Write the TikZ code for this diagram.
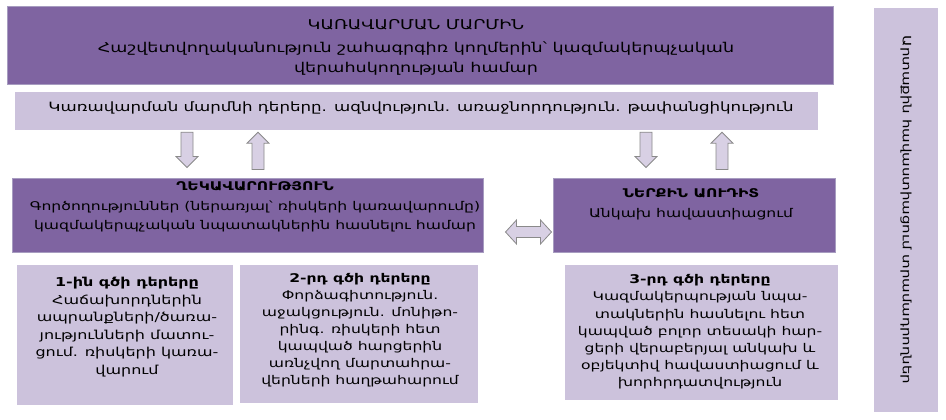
\documentclass[tikz,border=0pt]{standalone}
\usepackage{fontspec}
\setmainfont[FakeStretch=1.3]{DejaVu Sans}
\usetikzlibrary{calc,backgrounds}
\definecolor{dpurple}{HTML}{7F64A1}
\definecolor{lpurple}{HTML}{CCC2DC}
\definecolor{dborder}{HTML}{A79CC0}
\definecolor{arrowfill}{HTML}{D8D0E4}
\definecolor{arrowline}{HTML}{8A8A8A}
\tikzset{
  darkbox/.style={draw=dborder, line width=1pt, fill=dpurple, inner sep=0pt},
  lightbox/.style={fill=lpurple, draw=none, inner sep=0pt},
  txt/.style={align=center, inner sep=0pt, text=black},
  paneldraw/.style={fill=white, draw=black!10, line width=0.6pt},
  shadowline/.style={draw=black!35, line width=1.2pt},
  blockarrow/.style={fill=arrowfill, draw=arrowline, line width=0.8pt, line join=miter},
}
\newcommand\panelfor[1]{%
  \path[paneldraw] ($(#1.north west)+(-4pt,4pt)$) rectangle ($(#1.south east)+(5pt,-5pt)$);
  \draw[shadowline] ($(#1.south west)+(-2pt,-5pt)$) -- ($(#1.south east)+(5pt,-5pt)$) -- ($(#1.north east)+(5pt,2pt)$);}
\newcommand\vblock[2]{%
  \path[blockarrow] let \p1=#1, \p2=#2, \n1={ifthenelse(\y2>\y1,1,-1)} in
    ({\x1-6pt},\y1) -- ({\x1-6pt},{\y2-\n1*11pt}) -- ({\x1-11pt},{\y2-\n1*11pt}) -- (\x1,\y2)
    -- ({\x1+11pt},{\y2-\n1*11pt}) -- ({\x1+6pt},{\y2-\n1*11pt}) -- ({\x1+6pt},\y1) -- cycle;}
\begin{document}
\begin{tikzpicture}[x=1pt,y=-1pt]
\useasboundingbox (0,0) rectangle (946,420);
\fill[white] (0,0) rectangle (946,420);
% boxes
\node[darkbox, minimum width=826pt, minimum height=78pt] (gov) at (420,46) {};
\node[lightbox, minimum width=803pt, minimum height=38pt] (band) at (416.5,111) {};
\node[darkbox, minimum width=471pt, minimum height=74pt] (mgmt) at (247.5,215) {};
\node[darkbox, minimum width=282pt, minimum height=74pt] (ia) at (694,215) {};
\node[lightbox, minimum width=216pt, minimum height=140pt] (l1) at (125,335) {};
\node[lightbox, minimum width=238pt, minimum height=138pt] (l2) at (359,334) {};
\node[lightbox, minimum width=273pt, minimum height=135pt] (l3) at (701.5,332.5) {};
\node[lightbox, minimum width=64pt, minimum height=404pt] (ext) at (906,210) {};
\begin{scope}[on background layer]
  \panelfor{gov}\panelfor{band}\panelfor{mgmt}\panelfor{ia}
  \panelfor{l1}\panelfor{l2}\panelfor{l3}\panelfor{ext}
\end{scope}
% texts
\node[txt, font=\fontsize{13.5}{20}\selectfont] (govT) at (416,47.5)
  {ԿԱՌԱՎԱՐՄԱՆ ՄԱՐՄԻՆ\\[3pt]Հաշվետվողականություն շահագրգիռ կողմերին՝ կազմակերպչական\\վերահսկողության համար};
\node[txt, font=\fontsize{12.8}{15}\selectfont] (bandT) at (421,108)
  {Կառավարման մարմնի դերերը. ազնվություն. առաջնորդություն. թափանցիկություն};
\node[txt, font=\fontsize{12}{19.5}\selectfont] (mgmtT) at (255,207)
  {\textbf{ՂԵԿԱՎԱՐՈՒԹՅՈՒՆ}\\Գործողություններ (ներառյալ՝ ռիսկերի կառավարումը)\\կազմակերպչական նպատակներին հասնելու համար};
\node[txt, font=\fontsize{12}{20}\selectfont] (iaT) at (691,204)
  {\textbf{ՆԵՐՔԻՆ ԱՈՒԴԻՏ}\\Անկախ հավաստիացում};
\node[txt, font=\fontsize{12.3}{17.5}\selectfont] (l1T) at (127,327)
  {\textbf{1-ին գծի դերերը}\\Հաճախորդներին\\ապրանքների/ծառա-\\յությունների մատու-\\ցում. ռիսկերի կառա-\\վարում};
\node[txt, font=\fontsize{12}{17}\selectfont] (l2T) at (360,330)
  {\textbf{2-րդ գծի դերերը}\\Փորձագիտություն.\\աջակցություն. մոնիթո-\\րինգ. ռիսկերի հետ\\կապված հարցերին\\առնչվող մարտահրա-\\վերների հաղթահարում};
\node[txt, font=\fontsize{12}{17.2}\selectfont] (l3T) at (700,332)
  {\textbf{3-րդ գծի դերերը}\\Կազմակերպության նպա-\\տակներին հասնելու հետ\\կապված բոլոր տեսակի հար-\\ցերի վերաբերյալ անկախ և\\օբյեկտիվ հավաստիացում և\\խորհրդատվություն};
\node[txt, rotate=-90, font=\fontsize{11.5}{14}\selectfont] (extT) at (906,210)
  {Արտաքին հավաստիացում տրամադրողներ};
% arrows
\coordinate (a1) at (187,0);
\coordinate (a2) at (258,0);
\coordinate (a3) at (646,0);
\coordinate (a4) at (722,0);
\vblock{($(a1 |- band.south)+(0,2)$)}{($(a1 |- mgmt.north)+(0,-10)$)}
\vblock{($(a2 |- mgmt.north)+(0,-8)$)}{($(a2 |- band.south)+(0,2)$)}
\vblock{($(a3 |- band.south)+(0,2)$)}{($(a3 |- ia.north)+(0,-10)$)}
\vblock{($(a4 |- ia.north)+(0,-8)$)}{($(a4 |- band.south)+(0,2)$)}
\coordinate (dl) at ($(mgmt.east)+(22,17)$);
\coordinate (dr) at ($(ia.west)+(-1,17)$);
\path[blockarrow] let \p1=(dl), \p2=(dr) in
  (\x1,\y1) -- ({\x1+11pt},{\y1+12pt}) -- ({\x1+11pt},{\y1+5.5pt}) -- ({\x2-11pt},{\y1+5.5pt})
  -- ({\x2-11pt},{\y1+12pt}) -- (\x2,\y1) -- ({\x2-11pt},{\y1-12pt}) -- ({\x2-11pt},{\y1-5.5pt})
  -- ({\x1+11pt},{\y1-5.5pt}) -- ({\x1+11pt},{\y1-12pt}) -- cycle;
\end{tikzpicture}
\end{document}
